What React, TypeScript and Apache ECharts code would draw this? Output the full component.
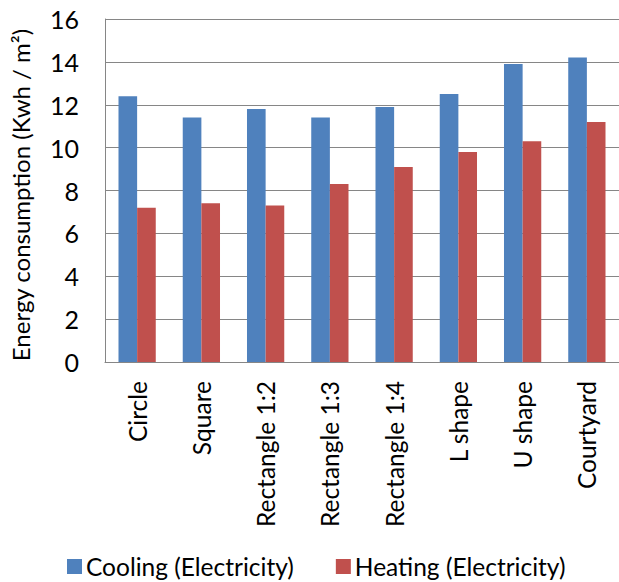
import React, { useEffect, useRef } from "react";
import * as echarts from "echarts";

const categories = ["Circle", "Square", "Rectangle 1:2", "Rectangle 1:3", "Rectangle 1:4", "L shape", "U shape", "Courtyard"];
const cooling = [12.4, 11.4, 11.8, 11.4, 11.9, 12.5, 13.9, 14.2];
const heating = [7.2, 7.4, 7.3, 8.3, 9.1, 9.8, 10.3, 11.2];
const seriesNames = ["Cooling (Electricity)", "Heating (Electricity)"];
const yTitle = "Energy consumption (Kwh / m²)";

const FONT = "Lato";
const GRID_COLOR = "#868686";

export default function App() {
  const ref = useRef<HTMLDivElement>(null);
  useEffect(() => {
    if (!ref.current) return;
    const chart = echarts.init(ref.current, null, { renderer: "svg" });
    chart.setOption({
      animation: false,
      backgroundColor: "#ffffff",
      textStyle: { fontFamily: FONT, color: "#000" },
      grid: { left: 96, top: 19, width: 528, height: 343, containLabel: false },
      legend: {
        left: 62,
        top: 549,
        icon: "rect",
        itemWidth: 15,
        itemHeight: 15,
        itemGap: 42,
        textStyle: { fontFamily: FONT, fontSize: 24.5, color: "#000", padding: [0, 0, 0, -1] },
        data: seriesNames,
      },
      xAxis: {
        type: "category",
        data: categories,
        axisLine: { show: true, lineStyle: { color: GRID_COLOR, width: 1 } },
        axisTick: { show: false },
        axisLabel: { rotate: 90, margin: 19, fontSize: 24.5, color: "#000", fontFamily: FONT, interval: 0 },
      },
      yAxis: {
        type: "value",
        min: 0,
        max: 16,
        interval: 2,
        name: yTitle,
        nameLocation: "middle",
        nameRotate: 90,
        nameGap: 73,
        nameTextStyle: { fontSize: 24, color: "#000", fontFamily: FONT, padding: [0, 9, 0, 0] },
        axisLine: { show: true, lineStyle: { color: GRID_COLOR, width: 1 } },
        axisTick: { show: false },
        axisLabel: { margin: 26, fontSize: 25, color: "#000", fontFamily: FONT },
        splitLine: { show: true, lineStyle: { color: GRID_COLOR, width: 1 } },
      },
      series: [
        {
          name: seriesNames[0],
          type: "bar",
          data: cooling,
          barGap: "0%",
          barCategoryGap: "42%",
          itemStyle: { color: "#4F81BD" },
        },
        {
          name: seriesNames[1],
          type: "bar",
          data: heating,
          barGap: "0%",
          barCategoryGap: "42%",
          itemStyle: { color: "#C0504D" },
        },
      ],
    });
    return () => chart.dispose();
  }, []);
  return <div ref={ref} style={{ width: 619, height: 582, position: "absolute", left: 0, top: 0 }} />;
}
